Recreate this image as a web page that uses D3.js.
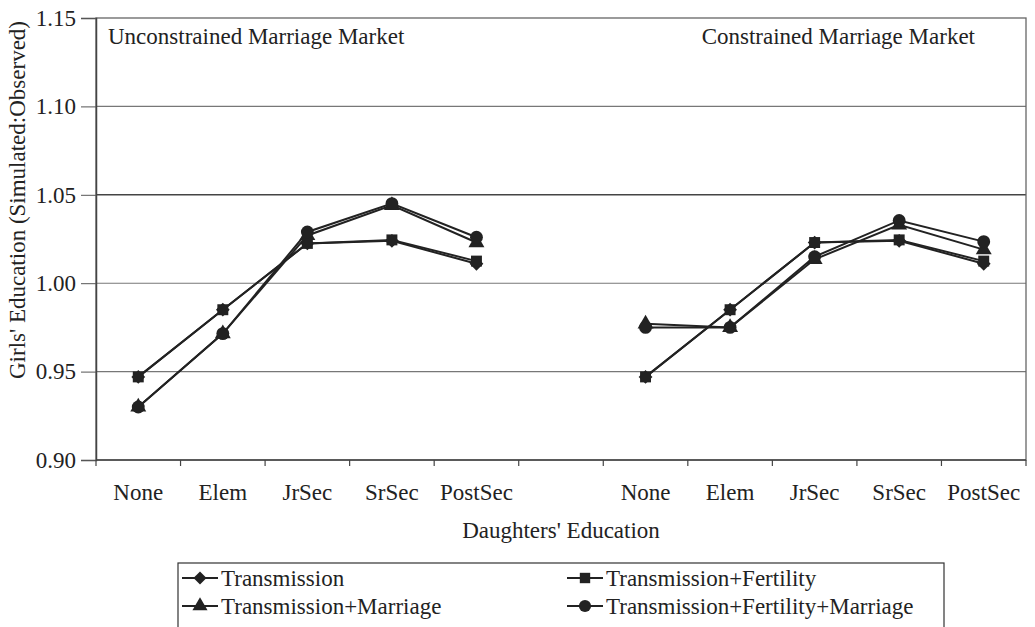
<!DOCTYPE html>
<html>
<head>
<meta charset="utf-8">
<script src="https://cdn.jsdelivr.net/npm/d3@7"></script>
<style>
  body { margin: 0; background: #fff; }
  text { font-family: "Liberation Serif", "DejaVu Serif", serif; fill: #222; }
</style>
</head>
<body>
<svg id="chart" width="1035" height="627"></svg>
<script>
// Categories (blank slot separates the two panels)
const categories = ["None", "Elem", "JrSec", "SrSec", "PostSec", "", "None", "Elem", "JrSec", "SrSec", "PostSec"];
const panelTitles = ["Unconstrained Marriage Market", "Constrained Marriage Market"];
const yTicks = [0.90, 0.95, 1.00, 1.05, 1.10, 1.15];

// Series values: [unconstrained panel, constrained panel]
const transmission         = [[0.947, 0.985, 1.0225, 1.024, 1.011], [0.947, 0.985, 1.023, 1.024, 1.011]];
const transFertility       = [[0.947, 0.985, 1.0225, 1.0245, 1.0125], [0.947, 0.985, 1.023, 1.0245, 1.0125]];
const transMarriage        = [[0.930, 0.9715, 1.027, 1.044, 1.023], [0.977, 0.975, 1.0135, 1.033, 1.019]];
const transFertMarriage    = [[0.930, 0.9715, 1.029, 1.045, 1.026], [0.975, 0.975, 1.015, 1.0355, 1.0235]];

const seriesNames = ["Transmission", "Transmission+Fertility", "Transmission+Marriage", "Transmission+Fertility+Marriage"];
const seriesValues = [transmission, transFertility, transMarriage, transFertMarriage];
// diamond = square turned 45 degrees
const seriesSymbols = [d3.symbolSquare, d3.symbolSquare, d3.symbolTriangle, d3.symbolCircle];
const seriesRotate = [45, 0, 0, 0];
const symbolSizes = [95, 120, 110, 130];

const svg = d3.select("#chart");
const plotLeft = 96, plotRight = 1026, plotTop = 18, plotBottom = 460;

const x = d3.scaleBand().domain(d3.range(categories.length)).range([plotLeft, plotRight]);
const y = d3.scaleLinear().domain([0.90, 1.15]).range([plotBottom, plotTop]);

// Grid lines
svg.append("g").selectAll("line")
  .data(yTicks.slice(1, -1))
  .enter().append("line")
  .attr("x1", plotLeft).attr("x2", plotRight)
  .attr("y1", d => y(d)).attr("y2", d => y(d))
  .attr("stroke", d => Math.abs(d - 1.05) < 1e-6 ? "#444" : "#777")
  .attr("stroke-width", d => Math.abs(d - 1.05) < 1e-6 ? 1.6 : 1.1);

// Frame
svg.append("rect")
  .attr("x", plotLeft).attr("y", plotTop)
  .attr("width", plotRight - plotLeft).attr("height", plotBottom - plotTop)
  .attr("fill", "none").attr("stroke", "#666").attr("stroke-width", 1.3);

// Y axis
const yAxis = d3.axisLeft(y).tickValues(yTicks).tickFormat(d3.format(".2f")).tickSize(15).tickPadding(5);
const gy = svg.append("g").attr("transform", `translate(${plotLeft},0)`).call(yAxis);
gy.select(".domain").attr("stroke", "#444").attr("stroke-width", 1.5);
gy.selectAll(".tick line").attr("stroke", "#555");
gy.selectAll(".tick text").style("font-size", "23px").attr("fill", "#222").attr("font-family", "Liberation Serif");

// X axis: ticks on category boundaries
const gx = svg.append("g");
gx.append("line").attr("x1", plotLeft).attr("x2", plotRight).attr("y1", plotBottom).attr("y2", plotBottom)
  .attr("stroke", "#444").attr("stroke-width", 1.5);
gx.selectAll("line.tk")
  .data(d3.range(categories.length + 1))
  .enter().append("line").attr("class", "tk")
  .attr("x1", i => plotLeft + i * x.step()).attr("x2", i => plotLeft + i * x.step())
  .attr("y1", plotBottom).attr("y2", plotBottom + 6)
  .attr("stroke", "#444").attr("stroke-width", 1.2);
gx.selectAll("text")
  .data(categories)
  .enter().append("text")
  .attr("x", (d, i) => x(i) + x.bandwidth() / 2)
  .attr("y", 500)
  .attr("text-anchor", "middle")
  .style("font-size", "23px")
  .text(d => d);

// Axis titles
svg.append("text")
  .attr("x", (plotLeft + plotRight) / 2).attr("y", 538)
  .attr("text-anchor", "middle").style("font-size", "23px")
  .text("Daughters' Education");
svg.append("text")
  .attr("transform", "translate(25,200) rotate(-90)")
  .attr("text-anchor", "middle").style("font-size", "23px")
  .text("Girls' Education (Simulated:Observed)");

// Panel titles
svg.append("text").attr("x", 108).attr("y", 44).style("font-size", "23px").text(panelTitles[0]);
svg.append("text").attr("x", 975).attr("y", 44).attr("text-anchor", "end").style("font-size", "23px").text(panelTitles[1]);

// Lines and markers
const line = d3.line().x(d => x(d.i) + x.bandwidth() / 2).y(d => y(d.v));
seriesValues.forEach((panels, s) => {
  panels.forEach((vals, p) => {
    const pts = vals.map((v, k) => ({ i: p * 6 + k, v }));
    svg.append("path").datum(pts)
      .attr("d", line).attr("fill", "none")
      .attr("stroke", "#222").attr("stroke-width", 2);
    svg.append("g").selectAll("path")
      .data(pts).enter().append("path")
      .attr("transform", d => `translate(${x(d.i) + x.bandwidth() / 2},${y(d.v)}) rotate(${seriesRotate[s]})`)
      .attr("d", d3.symbol().type(seriesSymbols[s]).size(symbolSizes[s]))
      .attr("fill", "#222");
  });
});

// Legend
const legend = svg.append("g");
legend.append("rect").attr("x", 178).attr("y", 563).attr("width", 766).attr("height", 80)
  .attr("fill", "#fff").attr("stroke", "#333").attr("stroke-width", 1.2);
const legendPos = [[200, 578], [585, 578], [200, 606], [585, 606]];
seriesNames.forEach((name, s) => {
  const [cx, cy] = legendPos[s];
  legend.append("line").attr("x1", cx - 18).attr("x2", cx + 18).attr("y1", cy).attr("y2", cy)
    .attr("stroke", "#222").attr("stroke-width", 2);
  legend.append("path").attr("transform", `translate(${cx},${cy}) rotate(${seriesRotate[s]})`)
    .attr("d", d3.symbol().type(seriesSymbols[s]).size(symbolSizes[s] * 0.9)).attr("fill", "#222");
  legend.append("text").attr("x", cx + 21).attr("y", cy + 8).style("font-size", "23px").text(name);
});
</script>
</body>
</html>
